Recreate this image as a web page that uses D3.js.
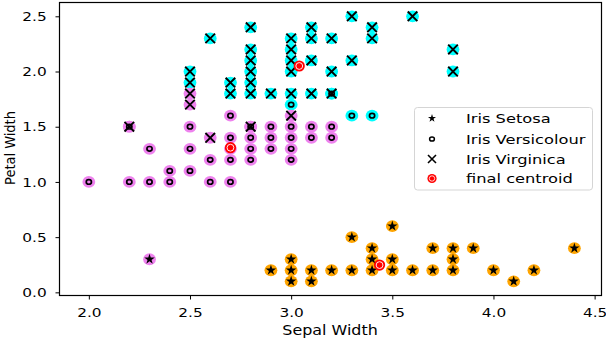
<!DOCTYPE html>
<html>
<head>
<meta charset="utf-8">
<script src="https://cdn.jsdelivr.net/npm/d3@7"></script>
<style>
body{margin:0;background:#fff;}
text{font-family:"DejaVu Sans",sans-serif;fill:#000;}
</style>
</head>
<body>
<svg id="chart" width="606" height="338"></svg>
<script>
// [sepal width, petal width, cluster]  cluster: 0 cyan, 1 violet, 2 orange
var setosa = [
  [2.3,0.3,1],[2.9,0.2,2],[3.0,0.3,2],[3.0,0.2,2],[3.0,0.1,2],[3.1,0.2,2],[3.1,0.1,2],
  [3.2,0.2,2],[3.3,0.5,2],[3.3,0.2,2],[3.4,0.4,2],[3.4,0.3,2],[3.4,0.2,2],[3.5,0.6,2],
  [3.5,0.3,2],[3.5,0.2,2],[3.6,0.2,2],[3.7,0.4,2],[3.7,0.2,2],[3.8,0.4,2],[3.8,0.3,2],
  [3.8,0.2,2],[3.9,0.4,2],[4.0,0.2,2],[4.1,0.1,2],[4.2,0.2,2],[4.4,0.4,2]
];
var versicolour = [
  [3.0,1.7,0],[3.3,1.6,0],[3.4,1.6,0],[3.2,1.8,0],
  [2.7,1.6,1],[2.5,1.5,1],[2.5,1.3,1],[2.5,1.1,1],[2.7,1.4,1],[2.7,1.3,1],[2.7,1.2,1],
  [2.7,1.0,1],[2.2,1.5,1],[2.3,1.3,1],[2.0,1.0,1],[2.2,1.0,1],[2.3,1.0,1],[2.4,1.1,1],
  [2.4,1.0,1],[2.6,1.2,1],[2.6,1.0,1],[2.8,1.5,1],[2.8,1.4,1],[2.8,1.3,1],[2.8,1.2,1],
  [2.9,1.5,1],[2.9,1.4,1],[2.9,1.3,1],[3.0,1.5,1],[3.0,1.4,1],[3.0,1.3,1],[3.0,1.2,1],
  [3.1,1.5,1],[3.1,1.4,1],[3.2,1.5,1],[3.2,1.4,1]
];
var virginica = [
  [2.5,2.0,0],[2.5,1.9,0],[2.6,2.3,0],[2.7,1.9,0],[2.7,1.8,0],[2.8,2.4,0],[2.8,2.2,0],
  [2.8,2.1,0],[2.8,2.0,0],[2.8,1.9,0],[2.8,1.8,0],[2.9,1.8,0],[3.0,2.3,0],[3.0,2.2,0],
  [3.0,2.1,0],[3.0,2.0,0],[3.0,1.8,0],[3.1,2.4,0],[3.1,2.3,0],[3.1,2.1,0],[3.1,1.8,0],
  [3.2,2.3,0],[3.2,2.0,0],[3.2,1.8,0],[3.3,2.5,0],[3.3,2.1,0],[3.4,2.4,0],[3.4,2.3,0],
  [3.6,2.5,0],[3.8,2.2,0],[3.8,2.0,0],
  [2.5,1.8,1],[2.5,1.7,1],[2.2,1.5,1],[2.6,1.4,1],[2.8,1.5,1],[3.0,1.6,1]
];
var centroids = [[3.04,2.05],[2.70,1.31],[3.437,0.247]];
var clusterColors = ["#00ffff","#ee82ee","#ffa500"];
var xTicks = [2.0,2.5,3.0,3.5,4.0,4.5];
var yTicks = [0.0,0.5,1.0,1.5,2.0,2.5];
var legendLabels = ["Iris Setosa","Iris Versicolour","Iris Virginica","final centroid"];

var sx = 1.18; // picture is stretched sideways
var svg = d3.select('#chart');
var plot = {left:59.5, right:601.5, top:2.5, bottom:295.5};

var xScale = d3.scaleLinear().domain([1.855,4.534]).range([plot.left,plot.right]);
var yScale = d3.scaleLinear().domain([-0.0285,2.625]).range([plot.bottom,plot.top]);

// axes
var xAxis = d3.axisBottom(xScale).tickValues(xTicks).tickFormat(d3.format('.1f'))
  .tickSize(4).tickPadding(8.5);
var gx = svg.append('g').attr('transform','translate(0,'+plot.bottom+')').call(xAxis);
var yAxis = d3.axisLeft(yScale).tickValues(yTicks).tickFormat(d3.format('.1f'))
  .tickSize(4).tickPadding(8.8);
var gy = svg.append('g').attr('transform','translate('+plot.left+',0)').call(yAxis);
[gx,gy].forEach(function(g){
  g.select('.domain').remove();
  g.selectAll('line').attr('stroke','#000').attr('stroke-width',1);
  g.selectAll('text').attr('font-size',13).attr('font-family','DejaVu Sans')
    .attr('fill','#000');
});
gx.selectAll('text').attr('transform','scale('+sx+',1)');
gy.selectAll('text').attr('x',-12.8/sx).attr('transform','scale('+sx+',1)');

// frame
svg.append('rect')
  .attr('x',plot.left).attr('y',plot.top)
  .attr('width',plot.right-plot.left).attr('height',plot.bottom-plot.top)
  .attr('fill','none').attr('stroke','#000').attr('stroke-width',1.2);

// background circles by cluster
var allPts = setosa.concat(versicolour).concat(virginica);
svg.append('g').selectAll('ellipse').data(allPts).enter().append('ellipse')
  .attr('cx',function(d){return xScale(d[0]);})
  .attr('cy',function(d){return yScale(d[1]);})
  .attr('rx',6.4).attr('ry',5.9)
  .attr('fill',function(d){return clusterColors[d[2]];});

// species markers
var star = d3.symbol().type(d3.symbolStar).size(34);
var starSmall = d3.symbol().type(d3.symbolStar).size(20);
function xPath(h){return 'M'+(-h)+','+(-h)+'L'+h+','+h+'M'+(-h)+','+h+'L'+h+','+(-h);}

svg.append('g').selectAll('path').data(setosa).enter().append('path')
  .attr('d',star)
  .attr('transform',function(d){return 'translate('+xScale(d[0])+','+yScale(d[1])+')';})
  .attr('fill','#000');

svg.append('g').selectAll('ellipse').data(versicolour).enter().append('ellipse')
  .attr('cx',function(d){return xScale(d[0]);})
  .attr('cy',function(d){return yScale(d[1]);})
  .attr('rx',2.6).attr('ry',2.3)
  .attr('fill','none').attr('stroke','#000').attr('stroke-width',1.7);

svg.append('g').selectAll('path').data(virginica).enter().append('path')
  .attr('d',xPath(4.8))
  .attr('transform',function(d){return 'translate('+xScale(d[0])+','+yScale(d[1])+')';})
  .attr('stroke','#000').attr('stroke-width',1.9).attr('fill','none');

// centroids
var cg = svg.append('g').selectAll('g').data(centroids).enter().append('g')
  .attr('transform',function(d){return 'translate('+xScale(d[0])+','+yScale(d[1])+')';});
cg.append('circle').attr('r',5.6).attr('fill','#ff0000');
cg.append('circle').attr('r',3.4).attr('fill','none').attr('stroke','#fff').attr('stroke-width',0.9);

// legend
var lg = svg.append('g');
lg.append('rect').attr('x',414.5).attr('y',107.5).attr('width',178).attr('height',82.5)
  .attr('rx',3).attr('fill','#fff').attr('fill-opacity',0.8)
  .attr('stroke','#d5d5d5').attr('stroke-width',1);
var rowY = [118.3,139,159,178.5];
var mx = 432;
lg.append('path').attr('d',starSmall).attr('transform','translate('+mx+','+rowY[0]+')').attr('fill','#000');
lg.append('ellipse').attr('cx',mx).attr('cy',rowY[1]).attr('rx',2.4).attr('ry',2.1)
  .attr('fill','none').attr('stroke','#000').attr('stroke-width',1.5);
lg.append('path').attr('d',xPath(4)).attr('transform','translate('+mx+','+rowY[2]+')')
  .attr('stroke','#000').attr('stroke-width',1.6);
lg.append('circle').attr('cx',mx).attr('cy',rowY[3]).attr('r',4.6).attr('fill','#ff0000');
lg.append('circle').attr('cx',mx).attr('cy',rowY[3]).attr('r',2.7).attr('fill','none')
  .attr('stroke','#fff').attr('stroke-width',0.8);
legendLabels.forEach(function(t,i){
  lg.append('text').attr('transform','translate(466,'+(rowY[i]+4.6)+') scale(1.25,1)')
    .attr('font-size',13).text(t);
});

// axis labels
svg.append('text').attr('transform','translate(330,335) scale('+sx+',1)')
  .attr('text-anchor','middle').attr('font-size',13.5).text('Sepal Width');
svg.append('text').attr('transform','translate(14.5,148) rotate(-90) scale(1,1.1)')
  .attr('text-anchor','middle').attr('font-size',13).text('Petal Width');
</script>
</body>
</html>
